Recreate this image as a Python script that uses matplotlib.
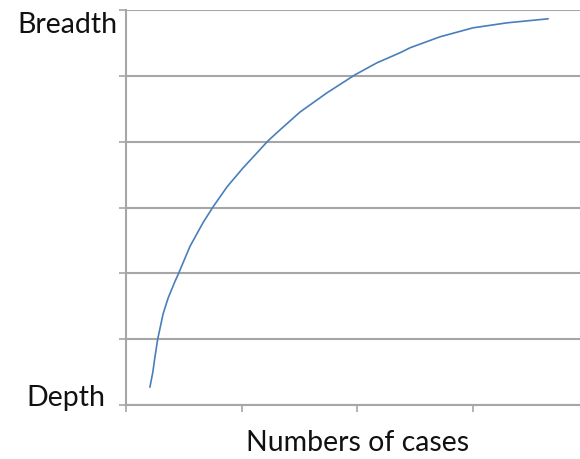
import matplotlib
matplotlib.use("Agg")
import matplotlib.pyplot as plt

# Curve values (x: cases scale, y: depth->breadth scale)
cases = [0.207, 0.232, 0.251, 0.274, 0.320, 0.363, 0.424, 0.450, 0.553, 0.666, 0.752,
         0.873, 1.011, 1.132, 1.227, 1.331, 1.504, 1.737, 1.979, 2.169, 2.368,
         2.455, 2.714, 2.999, 3.293, 3.647]
breadth = [0.274, 0.500, 0.740, 1.000, 1.380, 1.620, 1.880, 1.980, 2.410, 2.770, 3.009,
           3.313, 3.600, 3.830, 4.012, 4.179, 4.450, 4.742, 5.015, 5.198, 5.350,
           5.426, 5.593, 5.729, 5.805, 5.866]
x_ticks = [0, 1, 2, 3]
y_ticks = [0, 1, 2, 3, 4, 5, 6]
y_top_label = "Breadth"
y_bottom_label = "Depth"
x_label = "Numbers of cases"

fig = plt.figure(figsize=(5.8, 4.59), dpi=100)
ax = fig.add_axes([126/580, 54/459, 1 - 126/580, 395/459])

grid_c = "#a6a6a6"
ax.plot(cases, breadth, color="#4a7ebb", lw=1.2, solid_joinstyle="round")
ax.set_xlim(0, 454/115.7)
ax.set_ylim(0, 6)
ax.set_xticks(x_ticks)
ax.set_yticks(y_ticks)
ax.set_xticklabels([])
ax.set_yticklabels([])
ax.grid(axis="y", color=grid_c, lw=1.5)
ax.tick_params(axis="both", direction="out", length=5, width=1.2, color=grid_c)
for s in ["top", "right"]:
    ax.spines[s].set_visible(False)
for s in ["left", "bottom"]:
    ax.spines[s].set_color(grid_c)
    ax.spines[s].set_linewidth(1.5)
ax.set_axisbelow(True)

font = dict(family=["Lato", "DejaVu Sans"], fontsize=20.5, color="#111111")
fig.text(118/580, 1 - 25/459, y_top_label, ha="right", va="center", **font)
fig.text(105/580, 1 - 398/459, y_bottom_label, ha="right", va="center", **font)
fig.text(358/580, 1 - 443/459, x_label, ha="center", va="center", **font)

fig.savefig("out.png", dpi=100)
